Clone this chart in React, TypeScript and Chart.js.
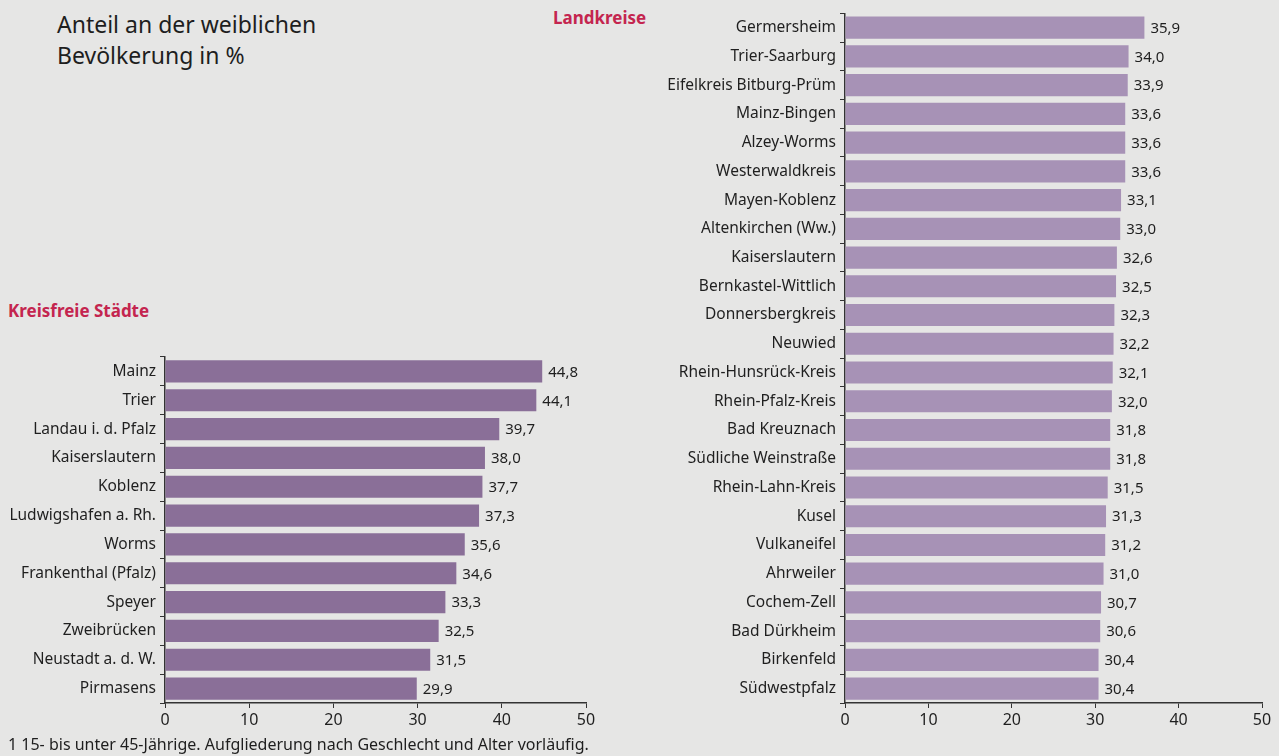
import React, { useEffect, useRef } from "react";
import { Chart, registerables } from "chart.js";

Chart.register(...registerables);

const cityLabels = [
  "Mainz", "Trier", "Landau i. d. Pfalz", "Kaiserslautern", "Koblenz",
  "Ludwigshafen a. Rh.", "Worms", "Frankenthal (Pfalz)", "Speyer",
  "Zweibrücken", "Neustadt a. d. W.", "Pirmasens",
];
const cityValues = [44.8, 44.1, 39.7, 38.0, 37.7, 37.3, 35.6, 34.6, 33.3, 32.5, 31.5, 29.9];

const districtLabels = [
  "Germersheim", "Trier-Saarburg", "Eifelkreis Bitburg-Prüm", "Mainz-Bingen",
  "Alzey-Worms", "Westerwaldkreis", "Mayen-Koblenz", "Altenkirchen (Ww.)",
  "Kaiserslautern", "Bernkastel-Wittlich", "Donnersbergkreis", "Neuwied",
  "Rhein-Hunsrück-Kreis", "Rhein-Pfalz-Kreis", "Bad Kreuznach",
  "Südliche Weinstraße", "Rhein-Lahn-Kreis", "Kusel", "Vulkaneifel",
  "Ahrweiler", "Cochem-Zell", "Bad Dürkheim", "Birkenfeld", "Südwestpfalz",
];
const districtValues = [
  35.9, 34.0, 33.9, 33.6, 33.6, 33.6, 33.1, 33.0, 32.6, 32.5, 32.3, 32.2,
  32.1, 32.0, 31.8, 31.8, 31.5, 31.3, 31.2, 31.0, 30.7, 30.6, 30.4, 30.4,
];

const xTicks = [0, 10, 20, 30, 40, 50];

const FONT = "'Noto Sans', sans-serif";
const TEXT = "#1f1f1f";
const AXIS = "#333333";

const valueLabelPlugin = {
  id: "valueLabels",
  afterDatasetsDraw(chart: any) {
    const ctx = chart.ctx;
    const meta = chart.getDatasetMeta(0);
    const data = chart.data.datasets[0].data as number[];
    ctx.save();
    ctx.font = `15px ${FONT}`;
    ctx.fillStyle = TEXT;
    ctx.textBaseline = "middle";
    ctx.textAlign = "left";
    meta.data.forEach((bar: any, i: number) => {
      const txt = data[i].toFixed(1).replace(".", ",");
      ctx.fillText(txt, bar.x + 6, bar.y + 1);
    });
    ctx.restore();
  },
};

function BarChart(props: {
  labels: string[];
  values: number[];
  color: string;
  yWidth: number;
  padTop: number;
  padRight: number;
}) {
  const ref = useRef<HTMLCanvasElement | null>(null);
  useEffect(() => {
    if (!ref.current) return;
    const chart = new Chart(ref.current, {
      type: "bar",
      data: {
        labels: props.labels,
        datasets: [
          {
            data: props.values,
            backgroundColor: props.color,
            barPercentage: 0.77,
            categoryPercentage: 1,
          },
        ],
      },
      options: {
        indexAxis: "y",
        animation: false,
        responsive: true,
        maintainAspectRatio: false,
        layout: { padding: { top: props.padTop, right: props.padRight, left: 0, bottom: 0 } },
        plugins: { legend: { display: false }, tooltip: { enabled: false } },
        scales: {
          x: {
            min: 0,
            max: 50,
            afterBuildTicks: (scale: any) => {
              scale.ticks = xTicks.map((v) => ({ value: v }));
            },
            afterFit: (scale: any) => {
              scale.height = 32;
            },
            grid: {
              drawOnChartArea: false,
              drawTicks: true,
              tickLength: 5,
              color: AXIS,
              lineWidth: 1,
            },
            border: { color: AXIS, width: 1.5 },
            ticks: {
              color: TEXT,
              font: { family: FONT, size: 16 },
              padding: 3,
            },
          },
          y: {
            afterFit: (scale: any) => {
              scale.width = props.yWidth;
            },
            grid: {
              offset: true,
              drawOnChartArea: false,
              drawTicks: true,
              tickLength: 5,
              color: AXIS,
              lineWidth: 1,
            },
            border: { color: AXIS, width: 1.5 },
            ticks: {
              color: TEXT,
              font: { family: FONT, size: 15.5 },
              padding: 4,
              autoSkip: false,
            },
          },
        },
      },
      plugins: [valueLabelPlugin],
    });
    return () => chart.destroy();
  }, []);
  return <canvas ref={ref} />;
}

export default function App() {
  return (
    <div
      style={{
        position: "absolute",
        left: 0,
        top: 0,
        width: 1279,
        height: 756,
        background: "#e6e6e5",
        fontFamily: FONT,
        color: TEXT,
        overflow: "hidden",
      }}
    >
      <div
        style={{
          position: "absolute",
          left: 57,
          top: 9,
          fontSize: 23,
          lineHeight: "31px",
          color: "#1e1e1e",
        }}
      >
        Anteil an der weiblichen
        <br />
        Bevölkerung in %
      </div>
      <div
        style={{
          position: "absolute",
          left: 8,
          top: 299,
          fontSize: 17,
          fontWeight: 700,
          color: "#c4254f",
        }}
      >
        Kreisfreie Städte
      </div>
      <div
        style={{
          position: "absolute",
          left: 553,
          top: 6,
          fontSize: 17,
          fontWeight: 700,
          color: "#c4254f",
        }}
      >
        Landkreise
      </div>
      <div style={{ position: "absolute", left: 0, top: 340, width: 620, height: 395 }}>
        <BarChart
          labels={cityLabels}
          values={cityValues}
          color="#8a6f98"
          yWidth={165}
          padTop={17}
          padRight={34}
        />
      </div>
      <div style={{ position: "absolute", left: 660, top: 0, width: 619, height: 735 }}>
        <BarChart
          labels={districtLabels}
          values={districtValues}
          color="#a792b6"
          yWidth={185}
          padTop={8}
          padRight={17}
        />
      </div>
      <div
        style={{
          position: "absolute",
          left: 8,
          top: 733,
          fontSize: 16,
          lineHeight: "22px",
          color: "#1e1e1e",
          whiteSpace: "nowrap",
        }}
      >
        1 15- bis unter 45-Jährige. Aufgliederung nach Geschlecht und Alter vorläufig.
      </div>
    </div>
  );
}
